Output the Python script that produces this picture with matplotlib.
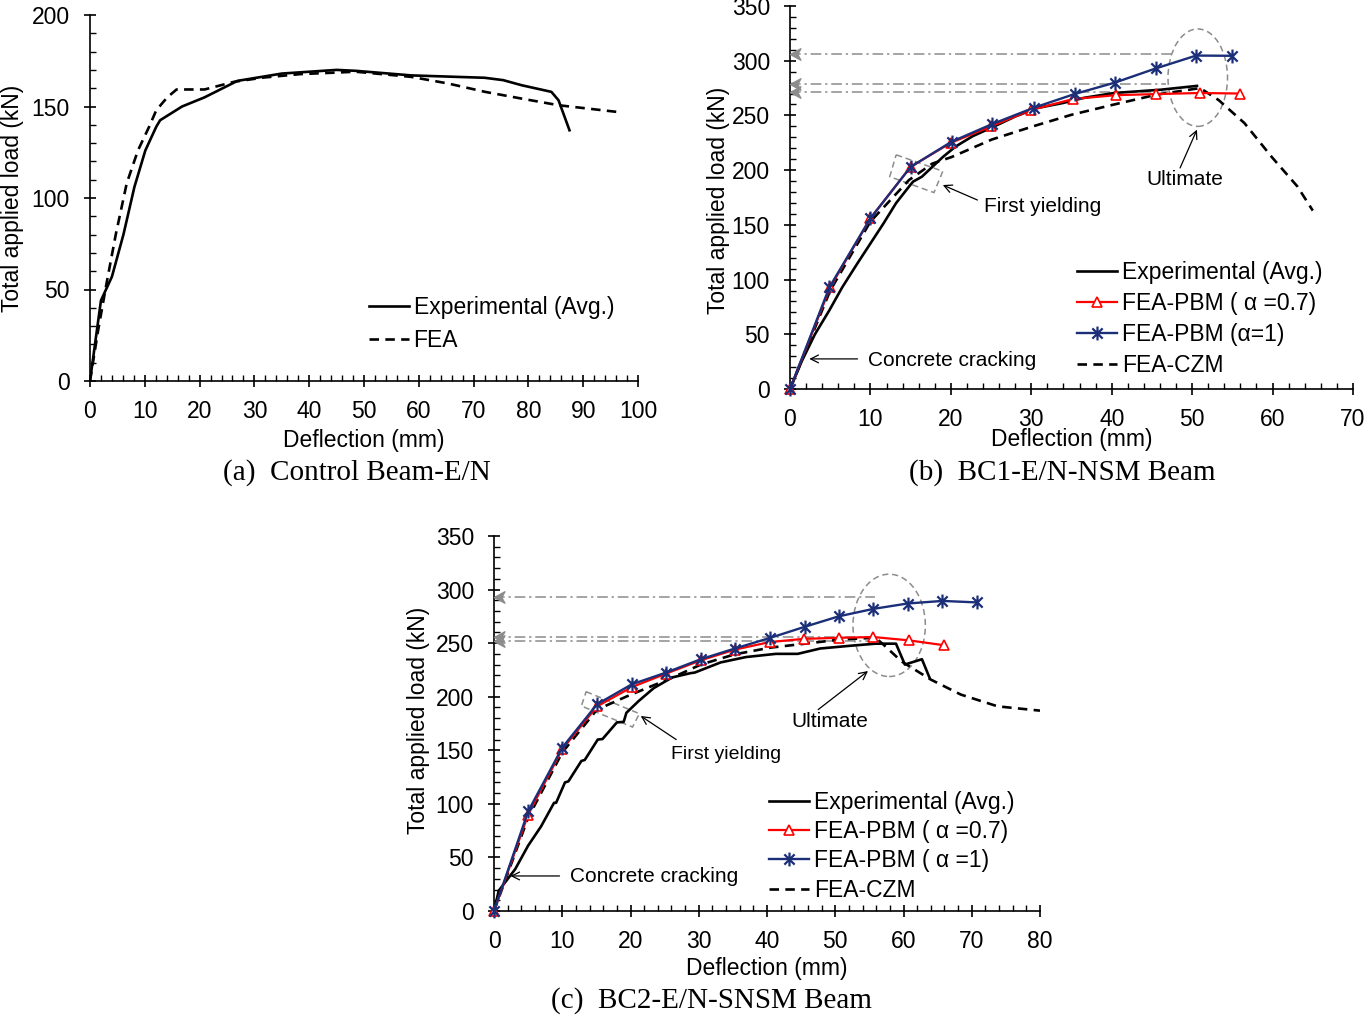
import matplotlib
matplotlib.use("Agg")
import matplotlib.pyplot as plt
from matplotlib.path import Path
from matplotlib.patches import Ellipse, Polygon
from matplotlib.ticker import MultipleLocator

# ---------------- data ----------------
# (a) Control Beam-E/N
a_exp_x = [0, 1.0, 2.0, 4.0, 6.1, 8.1, 10.1, 12.1, 12.8, 16.8, 20.9, 26.9, 35, 45, 48.5, 58.6, 72, 75.4, 78.8, 84.2, 85.5, 87.5]
a_exp_y = [0, 22, 44, 57, 80, 106, 126, 139, 142.5, 150, 155, 164, 168, 170, 169.5, 167, 165.7, 164.4, 161.6, 158, 153.4, 137]
a_fea_x = [0, 1.5, 3.0, 4.7, 6.7, 8.75, 10.8, 12.1, 14.1, 15.8, 20.9, 26.3, 31.6, 38.4, 48.5, 58.6, 65.3, 72.1, 78.8, 85.5, 96.3]
a_fea_y = [0, 28, 53, 80, 108, 126, 139, 148, 155, 159.3, 159.3, 163.5, 165.8, 167.7, 169, 166.2, 162.6, 158, 154.3, 150.7, 147]

# (b) BC1-E/N-NSM Beam
b_exp_x = [0, 1.5, 3.1, 4.9, 6.5, 8.4, 10, 11.6, 13.2, 14.8, 15.3, 16.4, 17.7, 19, 20.6, 22.7, 25.4, 28, 30.7, 33.9, 36.5, 40.3, 46.1, 50.6]
b_exp_y = [0, 26, 50, 72, 93, 115, 133, 151, 170, 185, 189.5, 194, 203, 212, 221.6, 231, 240, 249, 256.7, 261.3, 266, 270.5, 273.5, 277]
b_p07_x = [0, 5, 10, 15, 20, 25, 30, 35.2, 40.5, 45.5, 51, 56]
b_p07_y = [0, 93, 156, 203, 225, 240, 255, 265, 268.5, 269.5, 270.5, 270]
b_p1_x = [0, 4.9, 10, 15, 20.1, 25.1, 30.3, 35.4, 40.4, 45.5, 50.5, 55]
b_p1_y = [0, 93, 156, 203, 226, 242, 257, 269.6, 280, 293, 304.7, 304.5]
b_czm_x = [0, 5, 10, 14.8, 17.7, 20.1, 25.1, 30.2, 35, 40.3, 45.6, 51, 53.3, 56.5, 59.9, 63.1, 65]
b_czm_y = [0, 90, 153, 191, 206, 212, 228, 240, 250.6, 260, 269, 275, 264, 243, 212, 185, 163]
b_ref_y = [306, 279, 271]
b_ref_end = [47.5, 46.8, 47.0]

# (c) BC2-E/N-SNSM Beam
c_exp_x = [0, 0.7, 3.1, 5.0, 6.9, 8.8, 9.1, 10.4, 10.9, 12.8, 13.3, 15.2, 15.9, 18.0, 19.0, 19.4, 21.2, 23.4, 26.1, 28.8, 29.4, 33.2, 36.9, 41.3, 44.5, 47.8, 52.1, 55.9, 58.9, 60.2, 62.7, 63.8]
c_exp_y = [0, 19, 39, 61, 79, 101, 101, 120, 121, 140, 141, 160, 160.5, 176, 176.5, 185, 196, 208, 218, 222, 222.5, 232, 237, 240, 240, 245, 247.5, 249.5, 249.5, 230, 235, 218]
c_p07_x = [0, 5, 10, 15.1, 20.2, 25.2, 30.3, 35.3, 40.4, 45.4, 50.6, 55.6, 60.8, 66]
c_p07_y = [0, 90, 151, 191, 209, 221.5, 234, 244, 251, 254, 255, 255.7, 252.6, 248]
c_p1_x = [0, 5, 10, 15.1, 20.2, 25.2, 30.3, 35.3, 40.5, 45.6, 50.5, 55.6, 60.6, 65.7, 70.8]
c_p1_y = [0, 93, 152.5, 193, 211.6, 222.5, 235, 245, 255, 265.4, 275, 282, 287, 289.4, 288]
c_czm_x = [0, 5, 10, 15.1, 19.6, 26.1, 30.3, 35.3, 40.5, 45.6, 51, 55.9, 57, 59.7, 64, 68.4, 73.8, 80]
c_czm_y = [0, 87, 148, 188, 200.7, 217.8, 230, 239.6, 245.8, 249.5, 253.6, 255, 249, 233, 216, 202, 191, 187]
c_ref_y = [293, 255.8, 252]
c_ref_end = [55.8, 55.4, 55.4]

labels_b = ["Experimental (Avg.)", "FEA-PBM ( \u03b1 =0.7)", "FEA-PBM (\u03b1=1)", "FEA-CZM"]
labels_c = ["Experimental (Avg.)", "FEA-PBM ( \u03b1 =0.7)", "FEA-PBM ( \u03b1 =1)", "FEA-CZM"]

# ---------------- style ----------------
plt.rcParams['font.family'] = ['Liberation Sans', 'DejaVu Sans']
FS = 16.5
AFS = 15
RED = '#FF0000'
BLUE = '#1B2F78'
GRAY = '#8C8C8C'
DASH = (0, (3.6, 2.4))
DASHDOT = (0, (7, 2.5, 1.5, 2.5))

star_path = Path([(-1, -1), (1, 1), (-1, 1), (1, -1), (0, -1.35), (0, 1.35)],
                 [Path.MOVETO, Path.LINETO, Path.MOVETO, Path.LINETO, Path.MOVETO, Path.LINETO])
head_path = Path([(0, 0), (1.0, 0.55), (0.7, 0.0), (1.0, -0.55), (0, 0)],
                 [Path.MOVETO, Path.LINETO, Path.LINETO, Path.LINETO, Path.CLOSEPOLY])

W, H = 1369, 1015
fig = plt.figure(figsize=(W / 100, H / 100), dpi=100)


def make_ax(l, r, b, t):
    return fig.add_axes([l / W, 1 - b / H, (r - l) / W, (b - t) / H])


def style_ax(ax, xmax, ymax, xmaj, ymaj, xmin, ymin):
    ax.set_xlim(0, xmax)
    ax.set_ylim(0, ymax)
    for s in ['top', 'right']:
        ax.spines[s].set_visible(False)
    for s in ['left', 'bottom']:
        ax.spines[s].set_linewidth(1.2)
    ax.xaxis.set_major_locator(MultipleLocator(xmaj))
    ax.yaxis.set_major_locator(MultipleLocator(ymaj))
    ax.xaxis.set_minor_locator(MultipleLocator(xmin))
    ax.yaxis.set_minor_locator(MultipleLocator(ymin))
    ax.tick_params(which='major', direction='inout', length=9, width=1.2, labelsize=FS)
    ax.tick_params(which='minor', direction='in', length=4.5, width=1.0)
    ax.tick_params(axis='y', which='major', pad=10)
    ax.tick_params(axis='x', which='major', pad=9)
    ax.set_xlabel('Deflection (mm)', fontsize=FS)
    ax.set_ylabel('Total applied load (kN)', fontsize=FS)


def legend(ax, handles, labels, x, y, sp):
    ax.legend(handles, labels, loc='upper left', bbox_to_anchor=(x, y), frameon=False,
              fontsize=FS, borderpad=0, borderaxespad=0, handlelength=1.75,
              handletextpad=0.2, labelspacing=sp)


def ref_lines(ax, ys, ends):
    for yv, xe in zip(ys, ends):
        ax.plot([0, xe], [yv, yv], color=GRAY, lw=1.1, ls=DASHDOT)
        ax.plot([0], [yv], marker=head_path, ms=15, color=GRAY, clip_on=False, zorder=5)


def arrow(ax, xy, xytext):
    ax.annotate('', xy=xy, xytext=xytext,
                arrowprops=dict(arrowstyle='->', color='black', lw=0.9, mutation_scale=14,
                                shrinkA=0, shrinkB=0))


def curves(ax, ex, ey, p7x, p7y, p1x, p1y, cx, cy):
    h1, = ax.plot(ex, ey, color='black', lw=1.9, zorder=3)
    h4, = ax.plot(cx, cy, color='black', lw=1.9, ls=DASH, zorder=2)
    h2, = ax.plot(p7x, p7y, color=RED, lw=1.6, marker='^', ms=7, mfc='white', mec=RED,
                  mew=1.2, zorder=4, clip_on=False)
    h3, = ax.plot(p1x, p1y, color=BLUE, lw=1.7, marker=star_path, ms=10, mec=BLUE,
                  mew=1.6, zorder=5, clip_on=False)
    return [h1, h2, h3, h4]


# ---------------- (a) ----------------
axa = make_ax(90, 638, 381, 15)
style_ax(axa, 100, 200, 10, 50, 2, 10)
ha1, = axa.plot(a_exp_x, a_exp_y, color='black', lw=1.9)
ha2, = axa.plot(a_fea_x, a_fea_y, color='black', lw=1.9, ls=DASH)
legend(axa, [ha1, ha2], ["Experimental (Avg.)", "FEA"], 0.509, 0.232, 0.42)
axa.yaxis.set_label_coords(-0.121, 0.5)
axa.xaxis.set_label_coords(0.5, -0.131)

# ---------------- (b) ----------------
axb = make_ax(790, 1353, 389, 6)
style_ax(axb, 70, 350, 10, 50, 2, 10)
ref_lines(axb, b_ref_y, b_ref_end)
hb = curves(axb, b_exp_x, b_exp_y, b_p07_x, b_p07_y, b_p1_x, b_p1_y, b_czm_x, b_czm_y)
legend(axb, hb, labels_b, 0.510, 0.333, 0.34)
axb.yaxis.set_label_coords(-0.106, 0.493)
axb.xaxis.set_label_coords(0.501, -0.103)
axb.add_patch(Ellipse((50.7, 284.5), 7.4, 89, fill=False, ec=GRAY, lw=1.1, ls=(0, (4, 2.5))))
axb.add_patch(Polygon([(13.2, 214), (19, 199), (17.9, 179.5), (12.4, 194)], closed=True,
                      fill=False, ec=GRAY, lw=1.1, ls=(0, (4, 2.5))))
axb.text(24.1, 167, 'First yielding', fontsize=AFS, va='center', ha='left')
arrow(axb, (19.0, 186.4), (23.3, 172.7))
axb.text(49.1, 191, 'Ultimate', fontsize=AFS, va='center', ha='center')
arrow(axb, (50.6, 237), (48.5, 202))
axb.text(9.7, 26, 'Concrete cracking', fontsize=AFS, va='center', ha='left')
arrow(axb, (2.4, 27.5), (8.4, 27.5))

# ---------------- (c) ----------------
axc = make_ax(494, 1040, 911, 536)
style_ax(axc, 80, 350, 10, 50, 2, 10)
ref_lines(axc, c_ref_y, c_ref_end)
hc = curves(axc, c_exp_x, c_exp_y, c_p07_x, c_p07_y, c_p1_x, c_p1_y, c_czm_x, c_czm_y)
legend(axc, hc, labels_c, 0.504, 0.320, 0.27)
axc.yaxis.set_label_coords(-0.117, 0.509)
axc.xaxis.set_label_coords(0.5, -0.122)
axc.add_patch(Ellipse((57.9, 266.6), 10.6, 95.5, fill=False, ec=GRAY, lw=1.1, ls=(0, (4, 2.5))))
axc.add_patch(Polygon([(13.5, 204.7), (21.3, 184.2), (20.3, 171.7), (12.8, 191.3)], closed=True,
                      fill=False, ec=GRAY, lw=1.1, ls=(0, (4, 2.5))))
axc.text(25.9, 146.5, 'First yielding', fontsize=14, va='center', ha='left')
arrow(axc, (21.5, 182), (26.7, 160))
axc.text(49.2, 177, 'Ultimate', fontsize=AFS, va='center', ha='center')
arrow(axc, (54.8, 224), (47.5, 188))
axc.text(11.1, 32, 'Concrete cracking', fontsize=AFS, va='center', ha='left')
arrow(axc, (2.4, 32.7), (9.6, 32.7))

# ---------------- captions ----------------
cap = dict(fontsize=21, family=['Liberation Serif', 'DejaVu Serif'], ha='center', va='center')
fig.text(357 / W, 1 - 473 / H, '(a)  Control Beam-E/N', **cap)
fig.text(1062 / W, 1 - 473 / H, '(b)  BC1-E/N-NSM Beam', **cap)
fig.text(711 / W, 1 - 1001 / H, '(c)  BC2-E/N-SNSM Beam', **cap)

fig.savefig('out.png', dpi=100)
